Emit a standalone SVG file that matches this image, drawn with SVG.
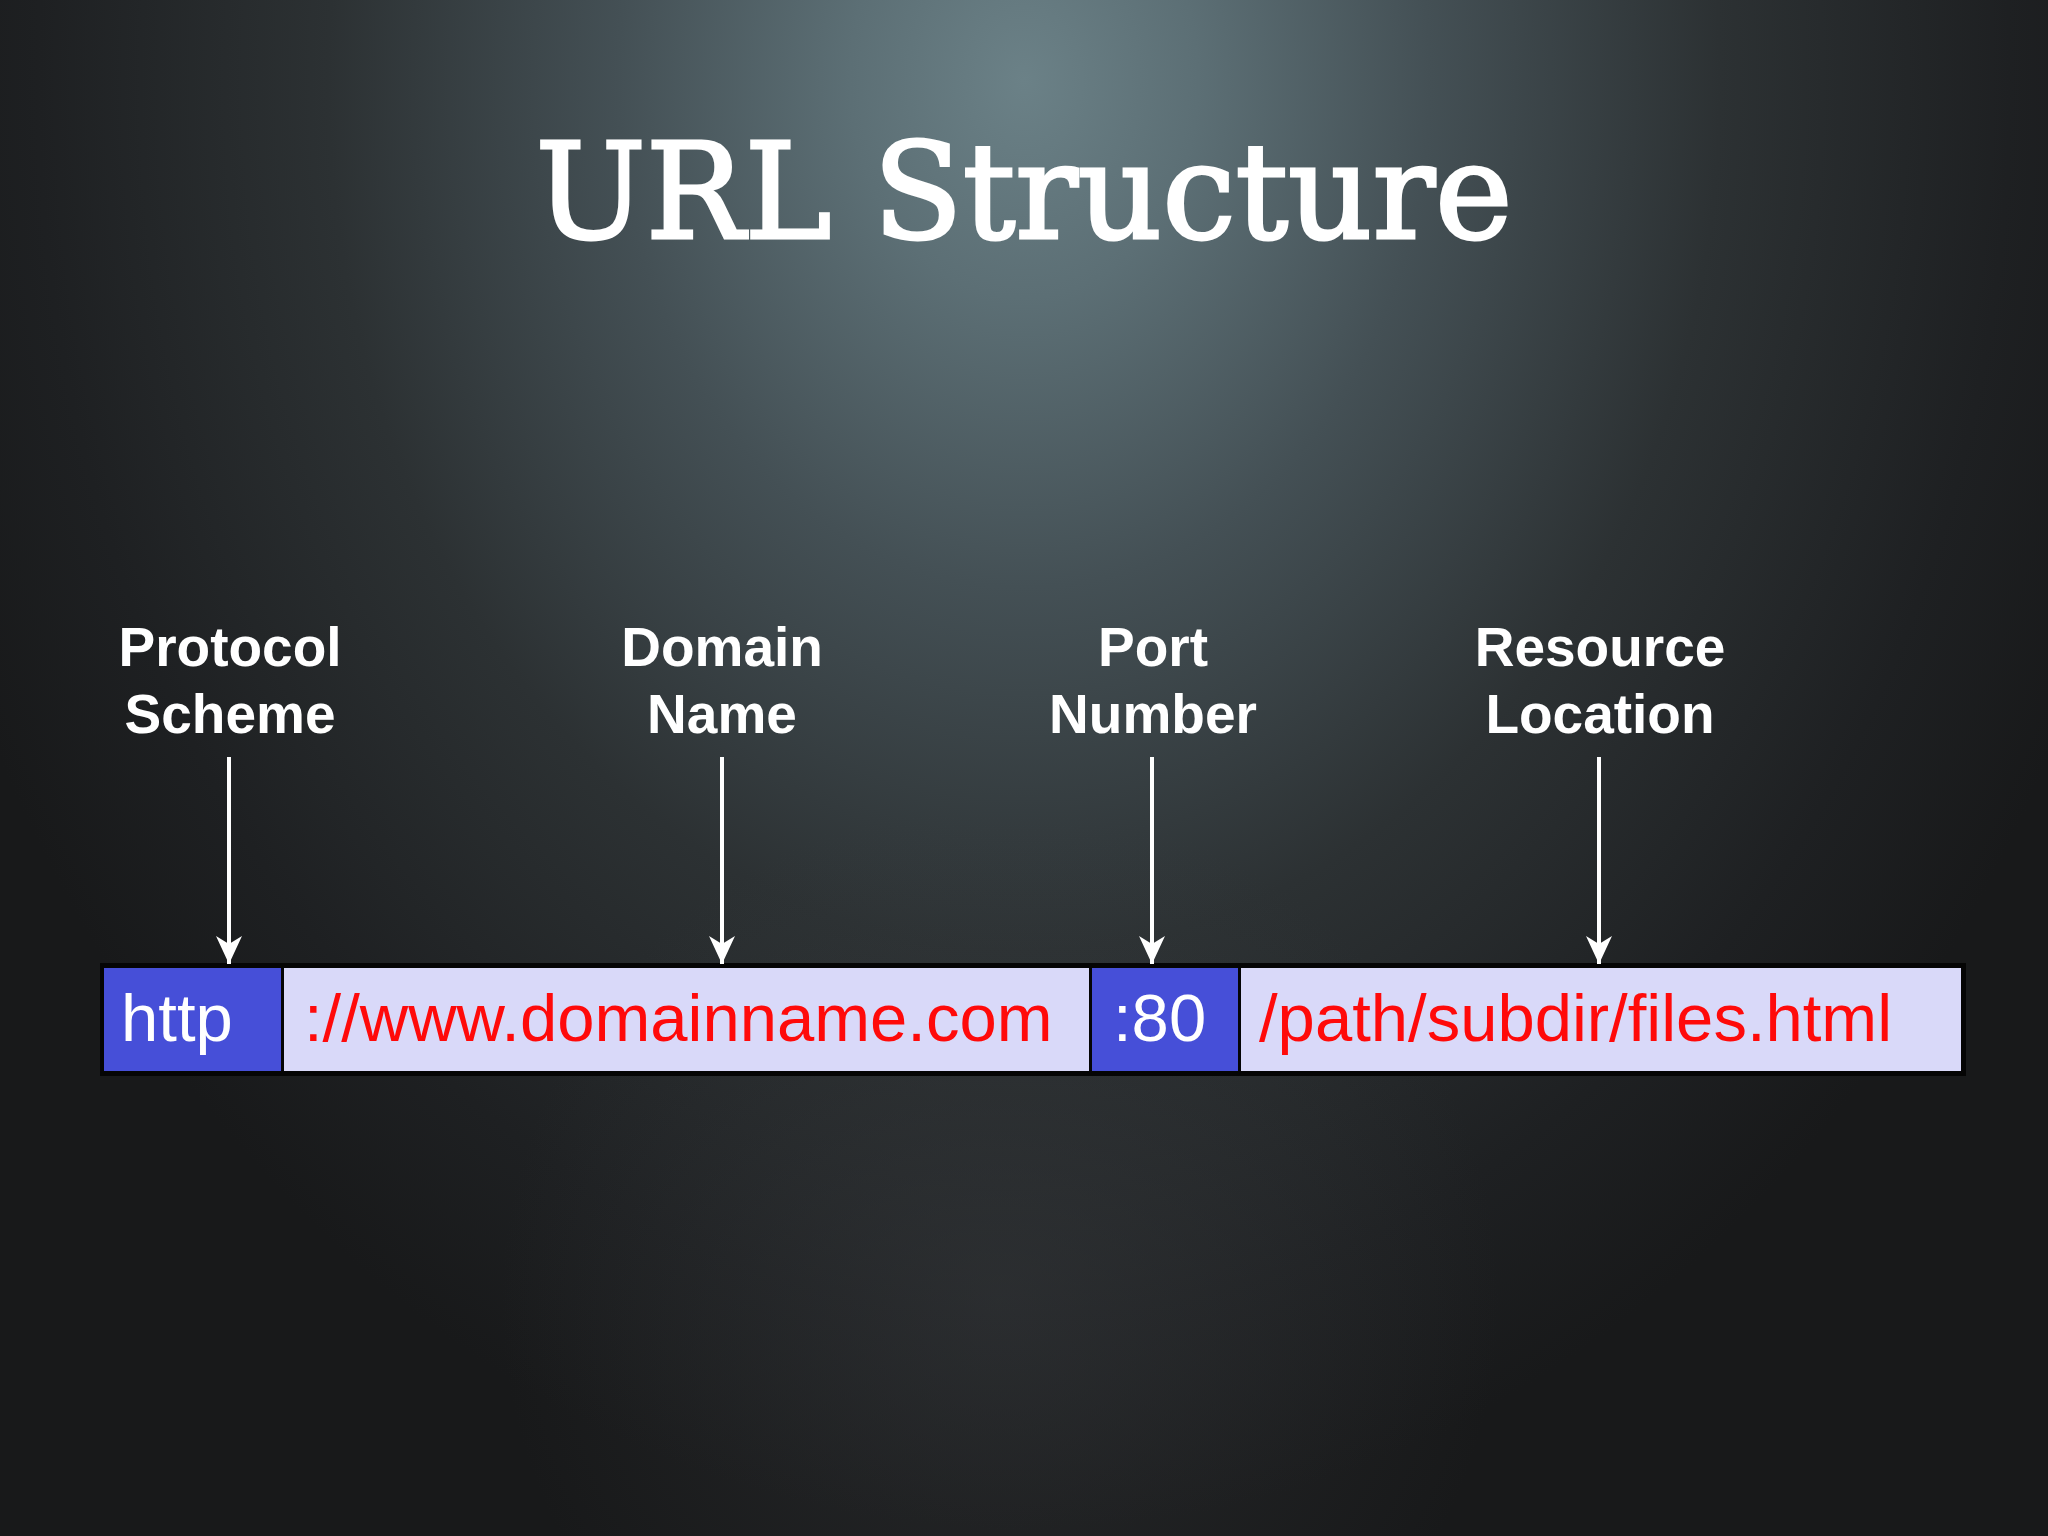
<svg xmlns="http://www.w3.org/2000/svg" width="2048" height="1536" viewBox="0 0 2048 1536">
  <defs>
    <radialGradient id="bg" gradientUnits="userSpaceOnUse" cx="1024" cy="80" r="1450" gradientTransform="translate(1024 80) scale(0.8 1) translate(-1024 -80)">
      <stop offset="0" stop-color="#6b8187"/>
      <stop offset="0.15" stop-color="#5c6f75"/>
      <stop offset="0.35" stop-color="#445055"/>
      <stop offset="0.6" stop-color="#2c3133"/>
      <stop offset="0.85" stop-color="#1e2022"/>
      <stop offset="1" stop-color="#18191a"/>
    </radialGradient>
    <radialGradient id="glow" gradientUnits="userSpaceOnUse" cx="1000" cy="1300" r="500">
      <stop offset="0" stop-color="#3a3d40" stop-opacity="0.45"/>
      <stop offset="1" stop-color="#3a3d40" stop-opacity="0"/>
    </radialGradient>
    <marker id="arrow" markerUnits="userSpaceOnUse" markerWidth="30" markerHeight="28" refX="28" refY="13" orient="auto" viewBox="0 0 30 28">
      <path d="M0,0 L28,13 L0,26 L8,13 Z" fill="#ffffff"/>
    </marker>
    <style>
      .title { font-family: "DejaVu Serif", "Liberation Serif", serif; font-size: 132px; fill: #ffffff; stroke: #ffffff; stroke-width: 3; }
      .label { font-family: "Liberation Sans", Arial, sans-serif; font-weight: bold; font-size: 55px; fill: #ffffff; text-anchor: middle; }
      .seg-dark { fill: #464fd8; }
      .seg-light { fill: #d9d9f9; }
      .url { font-family: "Liberation Sans", Arial, sans-serif; font-size: 67px; }
      .url-w { fill: #ffffff; }
      .url-r { fill: #ff0a0a; }
      .conn { stroke: #ffffff; stroke-width: 4; fill: none; marker-end: url(#arrow); }
    </style>
  </defs>

  <rect x="0" y="0" width="2048" height="1536" fill="url(#bg)"/>
  <rect x="0" y="0" width="2048" height="1536" fill="url(#glow)"/>

  <g id="title">
    <text class="title" x="1024" y="238" text-anchor="middle" textLength="977" lengthAdjust="spacingAndGlyphs">URL Structure</text>
  </g>

  <g id="label-protocol">
    <text class="label" x="230" y="666">Protocol</text>
    <text class="label" x="230" y="733">Scheme</text>
  </g>
  <g id="label-domain">
    <text class="label" x="722" y="666">Domain</text>
    <text class="label" x="722" y="733">Name</text>
  </g>
  <g id="label-port">
    <text class="label" x="1153" y="666">Port</text>
    <text class="label" x="1153" y="733">Number</text>
  </g>
  <g id="label-resource">
    <text class="label" x="1600" y="666">Resource</text>
    <text class="label" x="1600" y="733">Location</text>
  </g>

  <g id="url-bar">
    <rect x="100" y="963" width="1866" height="113" fill="#050505"/>
    <g id="seg-http">
      <rect class="seg-dark" x="104" y="968" width="177" height="103"/>
      <text class="url url-w" x="121" y="1041">http</text>
    </g>
    <g id="seg-domain">
      <rect class="seg-light" x="284" y="968" width="805" height="103"/>
      <text class="url url-r" x="304" y="1041">://www.domainname.com</text>
    </g>
    <g id="seg-port">
      <rect class="seg-dark" x="1092" y="968" width="146" height="103"/>
      <text class="url url-w" x="1113" y="1041">:80</text>
    </g>
    <g id="seg-path">
      <rect class="seg-light" x="1241" y="968" width="720" height="103"/>
      <text class="url url-r" x="1259" y="1041">/path/subdir/files.html</text>
    </g>
  </g>

  <g id="connectors">
    <line class="conn" x1="229" y1="757" x2="229" y2="964"/>
    <line class="conn" x1="722" y1="757" x2="722" y2="964"/>
    <line class="conn" x1="1152" y1="757" x2="1152" y2="964"/>
    <line class="conn" x1="1599" y1="757" x2="1599" y2="964"/>
  </g>
</svg>
